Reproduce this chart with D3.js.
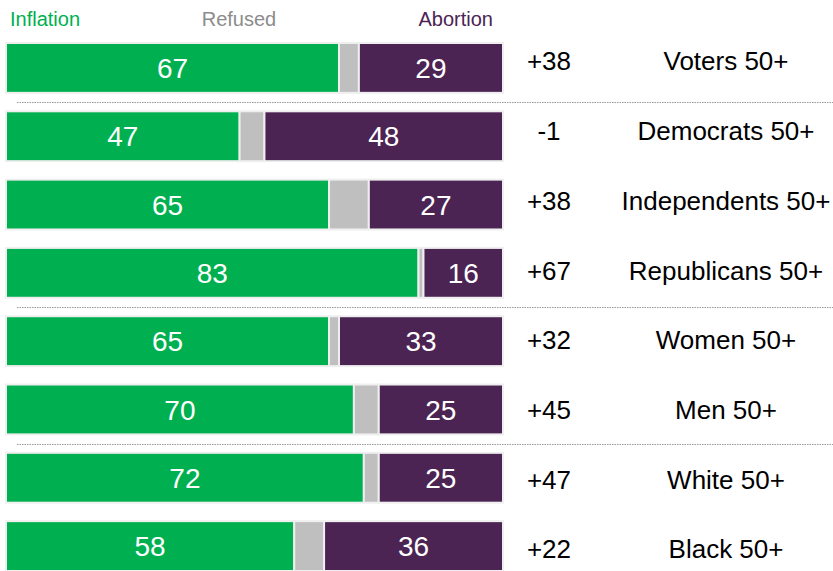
<!DOCTYPE html>
<html>
<head>
<meta charset="utf-8">
<script src="https://cdn.jsdelivr.net/npm/d3@7"></script>
<style>
  html,body{margin:0;padding:0;background:#fff;}
  svg{display:block;font-family:"Liberation Sans",Arial,sans-serif;}
</style>
</head>
<body>
<svg id="chart" width="833" height="571"></svg>
<script>
const groups=["Voters 50+","Democrats 50+","Independents 50+","Republicans 50+","Women 50+","Men 50+","White 50+","Black 50+"];
const inflation=[67,47,65,83,65,70,72,58];
const refused=[4,5,8,1,2,5,3,6];
const abortion=[29,48,27,16,33,25,25,36];
const diffs=["+38","-1","+38","+67","+32","+45","+47","+22"];
const sepAfter=["Voters 50+","Republicans 50+","Men 50+"];

const colors={inflation:"#00b050",refused:"#bfbfbf",abortion:"#4b2454"};

const svg=d3.select("#chart");
const W=833,H=571;

const x=d3.scaleLinear().domain([0,100]).range([6,503]);
const y=d3.scaleBand().domain(groups).range([43,571]).paddingInner(0.27).paddingOuter(0);
// the text column sits on a slightly wider pitch than the bars
const yLab=d3.scalePoint().domain(groups).range([61,549]);

// header labels
const head=svg.append("g").attr("font-size",20);
head.append("text").attr("x",10).attr("y",26).attr("fill",colors.inflation).text("Inflation");
head.append("text").attr("x",239).attr("y",26).attr("text-anchor","middle").attr("fill","#8c8c8c").text("Refused");
head.append("text").attr("x",493).attr("y",26).attr("text-anchor","end").attr("fill",colors.abortion).text("Abortion");

// separators
const sepY=d=>Math.round(y(d)+y.bandwidth()+(y.step()-y.bandwidth())/2)+0.5;
svg.append("g").selectAll("line").data(sepAfter).join("line")
  .attr("x1",17).attr("x2",W)
  .attr("y1",sepY).attr("y2",sepY)
  .attr("stroke","#999").attr("stroke-width",1).attr("stroke-dasharray","1.5,1");

const rows=groups.map((g,i)=>{
  const a=inflation[i],r=refused[i],b=abortion[i];
  return {g,diff:diffs[i],segs:[
    {k:"inflation",x0:0,x1:a,v:a},
    {k:"refused",x0:a,x1:a+r,v:null},
    {k:"abortion",x0:a+r,x1:a+r+b,v:b}
  ]};
});

const row=svg.append("g").selectAll("g").data(rows).join("g")
  .attr("transform",d=>`translate(0,${y(d.g)})`);

row.selectAll("rect").data(d=>d.segs).join("rect")
  .attr("x",d=>x(d.x0)).attr("width",d=>x(d.x1)-x(d.x0))
  .attr("y",0).attr("height",y.bandwidth())
  .attr("fill",d=>colors[d.k]).attr("stroke","#efefef").attr("stroke-width",2);

row.selectAll("text.val").data(d=>d.segs.filter(s=>s.v!=null)).join("text")
  .attr("class","val")
  .attr("x",d=>(x(d.x0)+x(d.x1))/2).attr("y",y.bandwidth()/2)
  .attr("dy","0.36em").attr("text-anchor","middle")
  .attr("fill","#fff").attr("font-size",28).text(d=>d.v);

const lab=svg.append("g").selectAll("g").data(rows).join("g")
  .attr("transform",d=>`translate(0,${yLab(d.g)})`)
  .attr("font-size",26).attr("fill","#000");

lab.append("text").attr("x",549).attr("dy","0.36em")
  .attr("text-anchor","middle").text(d=>d.diff);

lab.append("text").attr("x",726).attr("dy","0.36em")
  .attr("text-anchor","middle").text(d=>d.g);
</script>
</body>
</html>
